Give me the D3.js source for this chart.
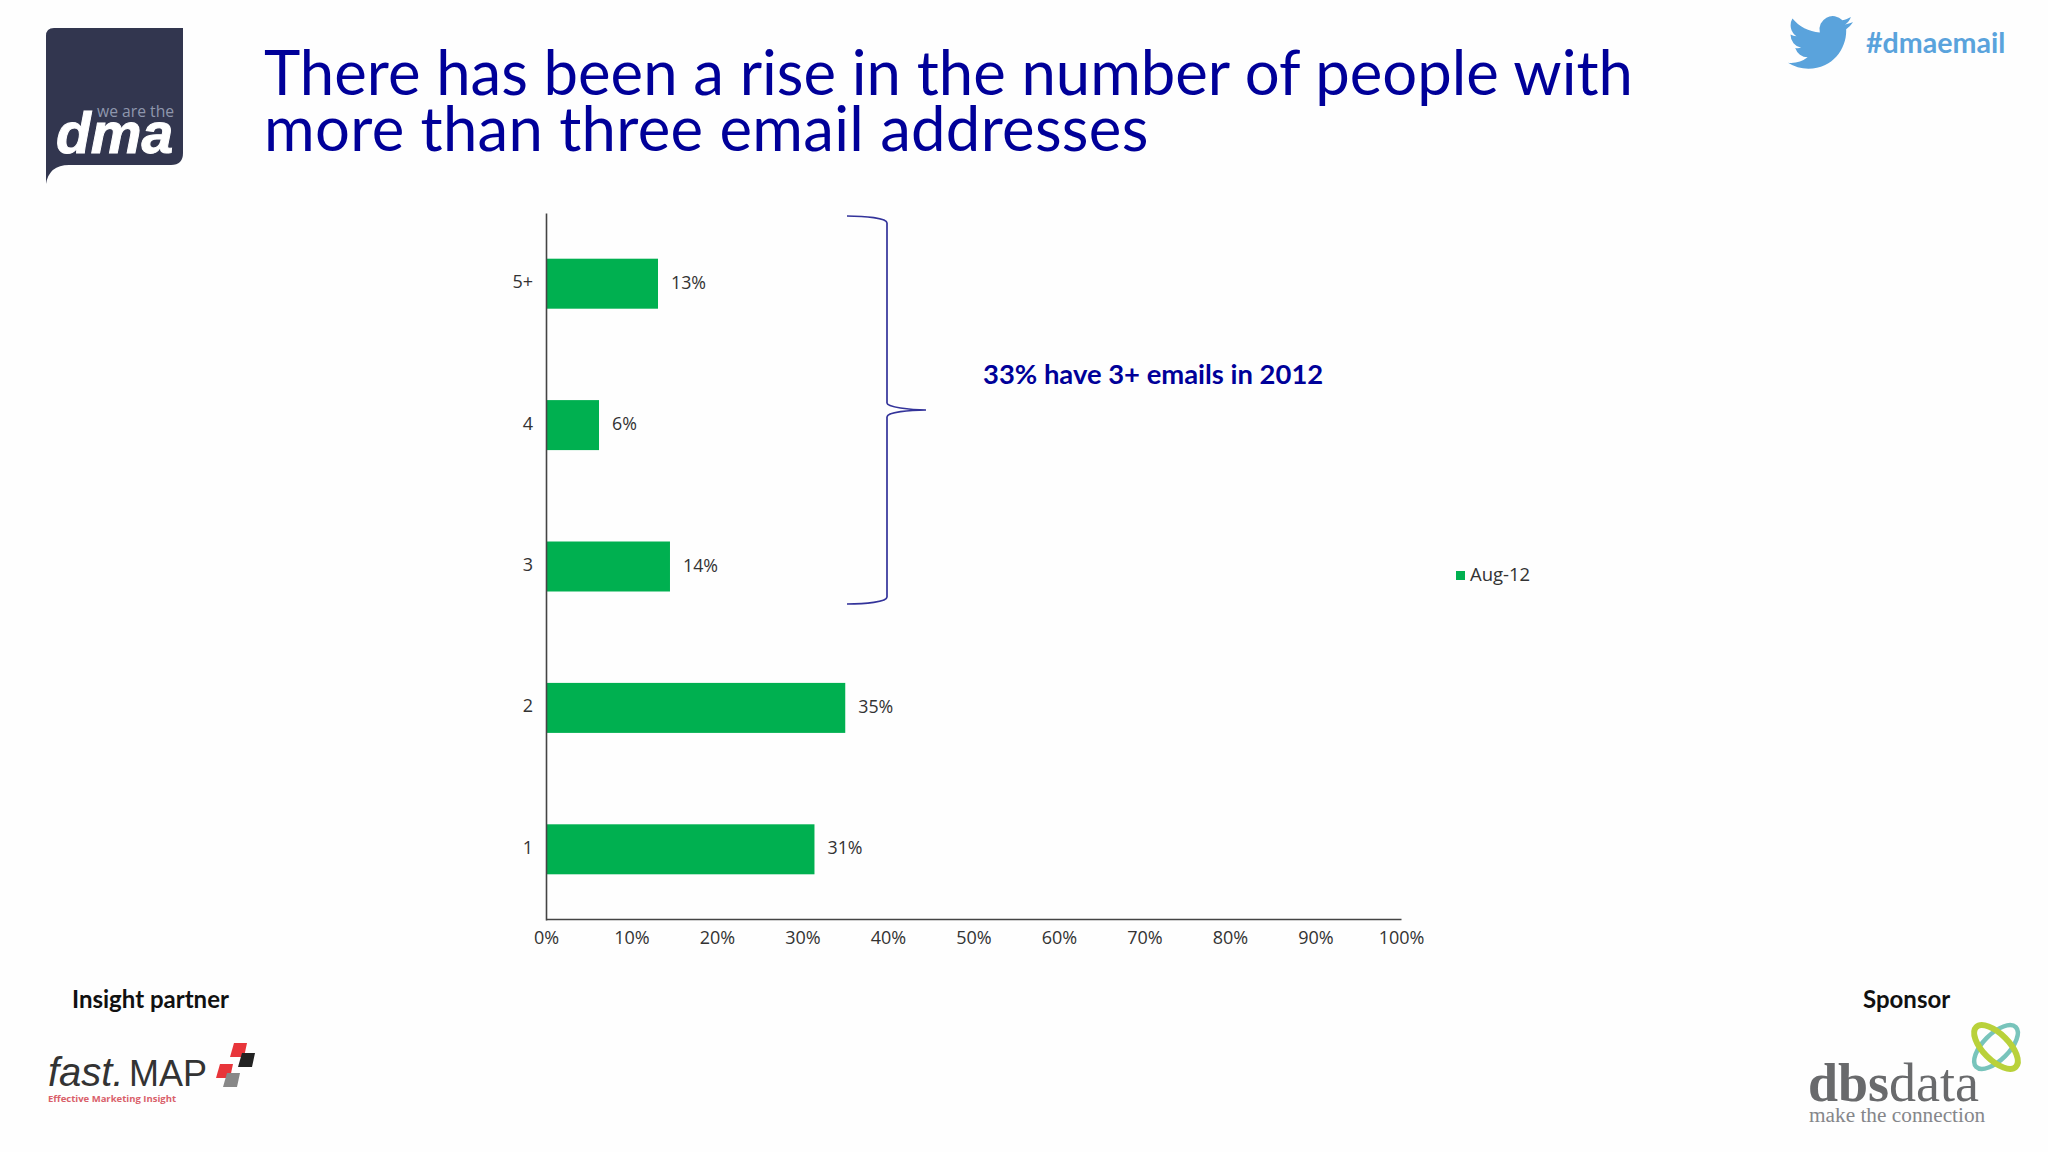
<!DOCTYPE html>
<html>
<head>
<meta charset="utf-8">
<script src="https://cdn.jsdelivr.net/npm/d3@7"></script>
<style>
  html, body { margin: 0; padding: 0; background: #fefefe; }
  svg { display: block; }
  .axis path { stroke: #444; stroke-width: 1.6px; }
  .axis text { fill: #333; font-family: "Open Sans", sans-serif; font-size: 18px; }
</style>
</head>
<body>
<svg id="chart" width="2048" height="1152"></svg>
<script>
  'use strict';

  var categories = ['5+', '4', '3', '2', '1'];
  var values = [13.1, 6.2, 14.5, 35, 31.4];
  var valueLabels = ['13%', '6%', '14%', '35%', '31%'];
  var xTicks = [0, 10, 20, 30, 40, 50, 60, 70, 80, 90, 100];
  var seriesName = 'Aug-12';
  var titleLines = ['There has been a rise in the number of people with', 'more than three email addresses'];
  var note = '33% have 3+ emails in 2012';

  var svg = d3.select('#chart');
  var x = d3.scaleLinear().domain([0, 100]).range([546, 1401]);
  var y = d3.scaleBand().domain(categories).range([213, 920]);

  function addText (text, px, py, size, color, opts) {
    opts = opts || {};
    return svg.append('text')
      .attr('x', px)
      .attr('y', py)
      .attr('fill', color)
      .attr('font-size', size)
      .attr('font-family', opts.family || 'Lato, sans-serif')
      .attr('font-weight', opts.weight || 'normal')
      .attr('font-style', opts.style || 'normal')
      .attr('text-anchor', opts.anchor || 'start')
      .text(text);
  }

  function drawChart () {
    svg.selectAll('.bar')
      .data(values)
      .enter()
      .append('rect')
      .attr('class', 'bar')
      .attr('x', x(0))
      .attr('y', function (d, i) { return y(categories[i]) + y.bandwidth() / 2 - 25; })
      .attr('width', function (d) { return x(d) - x(0); })
      .attr('height', 50)
      .attr('fill', '#00b050');

    svg.selectAll('.value')
      .data(values)
      .enter()
      .append('text')
      .attr('class', 'value')
      .attr('x', function (d) { return x(d) + 13; })
      .attr('y', function (d, i) { return y(categories[i]) + y.bandwidth() / 2 + 5; })
      .attr('fill', '#333')
      .attr('font-family', '"Open Sans", sans-serif')
      .attr('font-size', 17.8)
      .text(function (d, i) { return valueLabels[i]; });

    svg.append('g')
      .attr('class', 'axis')
      .attr('transform', 'translate(0,919)')
      .call(d3.axisBottom(x).tickValues(xTicks).tickSize(0).tickPadding(10)
        .tickFormat(function (d) { return d + '%'; }))
      .selectAll('text')
      .attr('dy', '0.85em');

    svg.append('g')
      .attr('class', 'axis')
      .attr('transform', 'translate(546,0)')
      .call(d3.axisLeft(y).tickSize(0).tickPadding(13))
      .selectAll('text')
      .attr('dy', '0.25em');

    svg.append('rect')
      .attr('x', 1456).attr('y', 571)
      .attr('width', 9).attr('height', 9)
      .attr('fill', '#00b050');
    addText(seriesName, 1470, 581, 18.5, '#333', {family: '"Open Sans", sans-serif'});
  }

  function drawBrace () {
    var p = d3.path();
    p.moveTo(847, 216);
    p.bezierCurveTo(865, 216, 887, 218, 887, 223);
    p.lineTo(887, 403);
    p.bezierCurveTo(887, 407, 910, 410, 926, 410);
    p.bezierCurveTo(910, 410, 887, 412, 887, 417);
    p.lineTo(887, 597);
    p.bezierCurveTo(887, 602, 865, 604, 847, 604);
    svg.append('path')
      .attr('d', p.toString())
      .attr('fill', 'none')
      .attr('stroke', '#33339a')
      .attr('stroke-width', 1.7);
  }

  function drawHeader () {
    addText(titleLines[0], 264, 95, 61.6, '#000099');
    addText(titleLines[1], 264, 151, 61.6, '#000099')
      .attr('letter-spacing', 0.3);
    addText(note, 983, 384, 27.4, '#000099', {weight: 'bold'});

    svg.append('path')
      .attr('d', 'M54,28 H183 V153 Q183,165 171,165 H69 Q49,165 46,184 V36 Q46,28 54,28 Z')
      .attr('fill', '#32364f');
    addText('we are the', 97, 117, 15.7, '#8f96ad', {family: '"Open Sans", sans-serif'});
    addText('dma', 56, 153, 57, '#fff', {family: '"Liberation Sans", sans-serif', weight: 'bold', style: 'italic'})
      .attr('stroke', '#fff')
      .attr('stroke-width', 1);

    svg.append('path')
      .attr('d', 'M23.953 4.57a10 10 0 01-2.825.775 4.958 4.958 0 002.163-2.723c-.951.555-2.005.959-3.127 1.184a4.92 4.92 0 00-8.384 4.482C7.69 8.095 4.067 6.13 1.64 3.162a4.822 4.822 0 00-.666 2.475c0 1.71.87 3.213 2.188 4.096a4.904 4.904 0 01-2.228-.616v.06a4.923 4.923 0 003.946 4.827 4.996 4.996 0 01-2.212.085 4.936 4.936 0 004.604 3.417 9.867 9.867 0 01-6.102 2.105c-.39 0-.779-.023-1.17-.067a13.995 13.995 0 007.557 2.209c9.053 0 13.998-7.496 13.998-13.985 0-.21 0-.42-.015-.63A9.935 9.935 0 0024 4.59z')
      .attr('transform', 'translate(1788,10) scale(2.7)')
      .attr('fill', '#5aa3dc');
    addText('#dmaemail', 1866, 53, 28.6, '#5aa3dc', {weight: 'bold'});
  }

  function drawFooter () {
    addText('Insight partner', 72, 1008, 24, '#111', {weight: 'bold'});
    addText('Sponsor', 1863, 1008, 24, '#111', {weight: 'bold'});

    // fast.MAP logo
    addText('fast.', 48, 1086, 40, '#333', {family: '"Liberation Sans", sans-serif', style: 'italic'});
    addText('MAP', 129, 1086, 36, '#333', {family: '"Liberation Sans", sans-serif'});
    addText('Effective Marketing Insight', 48, 1102, 9.5, '#d9606a', {family: '"Open Sans", sans-serif', weight: 'bold'});
    var squares = [[233, 1043, '#e8353a'], [241, 1053, '#222'], [219, 1064, '#e8353a'], [226, 1073, '#888']];
    svg.selectAll('.sq')
      .data(squares)
      .enter()
      .append('path')
      .attr('class', 'sq')
      .attr('d', function (d) {
        return 'M' + (d[0] + 1) + ',' + d[1] + ' h13 l-3,14 h-14 z';
      })
      .attr('fill', function (d) { return d[2]; });

    // dbsdata logo
    var dbs = addText('dbs', 1808, 1101, 54, '#696a6c', {family: '"Liberation Serif", serif', weight: 'bold'});
    dbs.append('tspan').attr('font-weight', 'normal').text('data');
    addText('make the connection', 1809, 1122, 21.3, '#85868a', {family: '"Liberation Serif", serif'});
    svg.append('ellipse')
      .attr('cx', 0).attr('cy', 0).attr('rx', 28).attr('ry', 13)
      .attr('transform', 'translate(1996,1047) rotate(-45)')
      .attr('fill', 'none').attr('stroke', '#78c4bb').attr('stroke-width', 4.5);
    svg.append('ellipse')
      .attr('cx', 0).attr('cy', 0).attr('rx', 28).attr('ry', 13)
      .attr('transform', 'translate(1996,1047) rotate(45)')
      .attr('fill', 'none').attr('stroke', '#b9d13a').attr('stroke-width', 6);
  }

  drawHeader();
  drawChart();
  drawBrace();
  drawFooter();
</script>
</body>
</html>
